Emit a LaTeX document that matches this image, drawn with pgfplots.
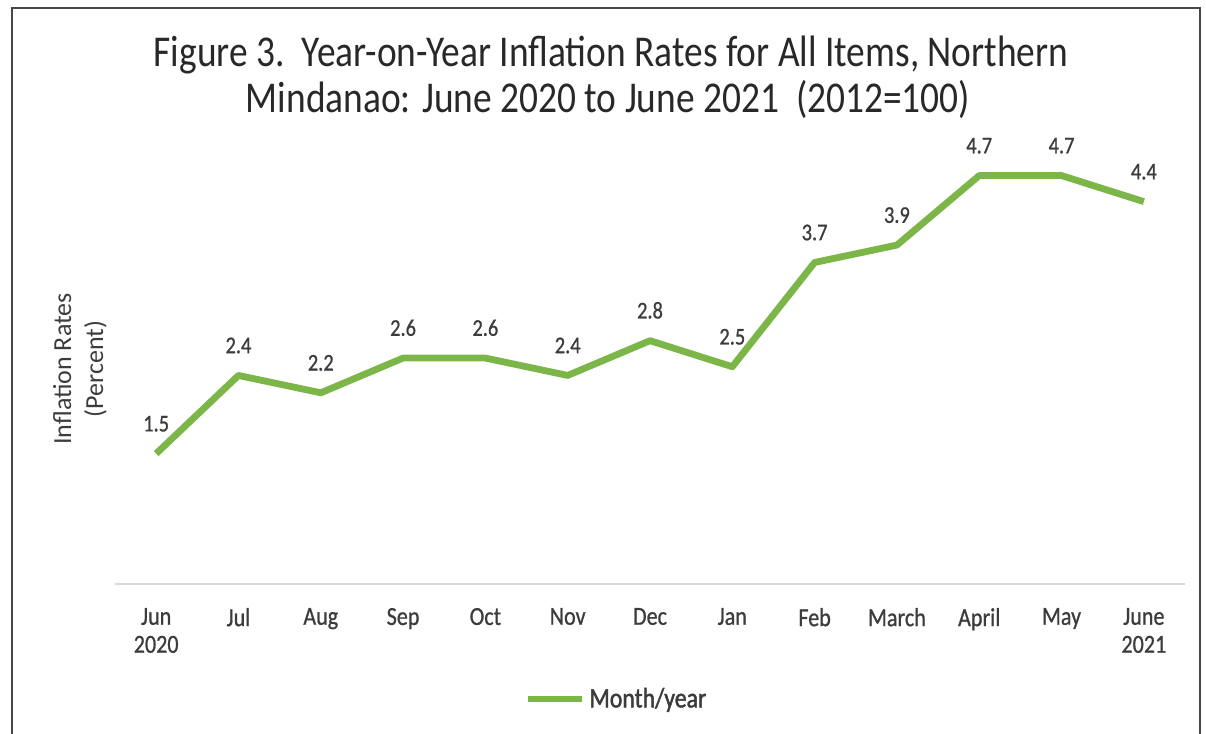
\documentclass[border=0pt]{standalone}
\usepackage{pgfplots}
\usepackage{pgfplotstable}
\pgfplotsset{compat=1.18}
\usepackage{fontspec}
\setmainfont[FakeStretch=0.85]{Carlito}
\newfontfamily\lblfont[FakeStretch=0.85, FakeBold=0.8]{Carlito}
\newfontfamily\legfont[FakeStretch=0.85, FakeBold=1.6]{Carlito}
\newfontfamily\ylfont{Carlito}
\definecolor{linegreen}{RGB}{125,182,72}
\definecolor{txt}{RGB}{60,60,60}
\definecolor{ttl}{RGB}{40,40,40}
\definecolor{basegray}{RGB}{217,217,217}
\definecolor{framegray}{RGB}{70,70,70}

% year-on-year inflation, Northern Mindanao
\pgfplotstableread{
x y
0 1.5
1 2.4
2 2.2
3 2.6
4 2.6
5 2.4
6 2.8
7 2.5
8 3.7
9 3.9
10 4.7
11 4.7
12 4.4
}\inflation

\begin{document}
\begin{tikzpicture}
\useasboundingbox (0pt,0pt) rectangle (603pt,367pt);
\draw[framegray, line width=1pt] (6pt,0pt) -- (6pt,363pt) -- (600pt,363pt) -- (600pt,0pt);
\node[anchor=base, text=ttl, font=\fontsize{22}{26}\selectfont] at (305.5pt,333.5pt)
  {Figure 3.\ \ Year-on-Year Inflation Rates for All Items, Northern};
\node[anchor=base, text=ttl, font=\fontsize{22}{26}\selectfont] at (304pt,310.5pt)
  {Mindanao: June 2020 to June 2021\ \ (2012=100)};
\node[rotate=90, align=center, text=txt, font=\ylfont\fontsize{13}{16}\selectfont] at (40pt,182.5pt)
  {Inflation Rates\\(Percent)};
\begin{axis}[
  at={(57.5pt,75pt)}, anchor=south west,
  width=535pt, height=217.25pt, scale only axis,
  xmin=-0.5, xmax=12.5, ymin=0, ymax=5,
  clip=false,
  hide y axis,
  axis x line*=bottom,
  x axis line style={-, draw=basegray, line width=0.6pt},
  major tick length=0pt,
  xtick={0,...,12},
  xticklabels={{Jun\\2020},Jul,Aug,Sep,Oct,Nov,Dec,Jan,Feb,March,April,May,{June\\2021}},
  xticklabel style={align=center, text=txt, font=\lblfont\fontsize{13}{14}\selectfont, yshift=-8.5pt},
  /pgf/number format/assume math mode=true,
  nodes near coords,
  every node near coord/.append style={text=txt, font=\lblfont\fontsize{12}{13}\selectfont, yshift=6pt},
  legend style={at={(0.47,-0.265)}, anchor=center, draw=none, fill=none,
    font=\legfont\fontsize{14}{15}\selectfont, text=txt,
    /tikz/every even column/.append style={column sep=0pt}},
  legend image code/.code={\draw[#1, line width=3pt] (0pt,0pt) -- (27pt,0pt);},
]
\addplot[linegreen, line width=3.4pt, line join=round] table[x=x, y=y] {\inflation};
\addlegendentry{Month/year}
\end{axis}
\end{tikzpicture}
\end{document}
